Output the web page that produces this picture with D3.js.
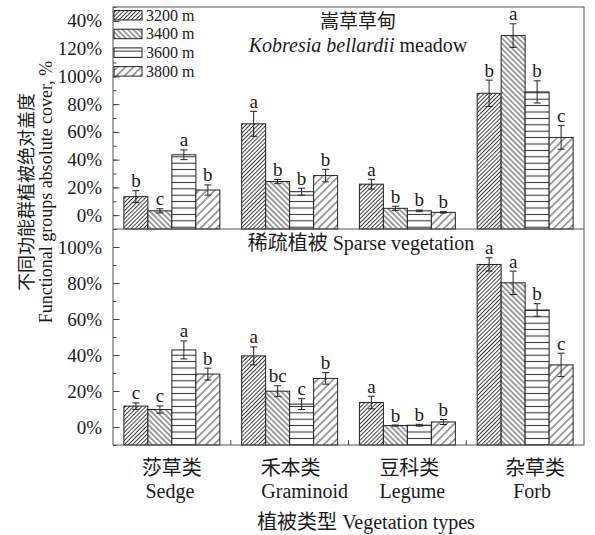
<!DOCTYPE html>
<html>
<head>
<meta charset="utf-8">
<script src="https://d3js.org/d3.v7.min.js"></script>
<style>
  body { margin: 0; background: #fff; }
  svg text { fill: #1a1a1a; }
</style>
</head>
<body>
<svg id="chart" width="595" height="535"></svg>
<script>
// categories / series
var categoriesCn = ["莎草类", "禾本类", "豆科类", "杂草类"];
var categoriesEn = ["Sedge", "Graminoid", "Legume", "Forb"];
var elevations = ["3200 m", "3400 m", "3600 m", "3800 m"];

// Kobresia bellardii meadow (top panel), rows = category, cols = elevation
var meadowMean = [[13.3, 3.1, 43.5, 18.1], [65.8, 24.2, 16.9, 28.5], [22.3, 4.9, 3.1, 2.0], [87.8, 129.4, 88.8, 56.0]];
var meadowErr  = [[4.3, 1.5, 3.5, 3.7], [9.0, 1.5, 2.5, 4.5], [3.5, 1.5, 0.6, 0.5], [9.5, 8.5, 8.0, 8.5]];
var meadowSig  = [["b", "c", "a", "b"], ["a", "b", "b", "b"], ["a", "b", "b", "b"], ["b", "a", "b", "c"]];

// Sparse vegetation (bottom panel)
var sparseMean = [[11.6, 9.7, 42.8, 29.4], [39.5, 19.9, 12.7, 27.0], [13.6, 0.8, 1.0, 2.8], [90.3, 80.1, 65.0, 34.5]];
var sparseErr  = [[1.8, 2.0, 5.0, 3.3], [5.0, 3.0, 3.0, 3.2], [3.5, 0.3, 0.5, 1.4], [3.7, 6.5, 3.5, 6.5]];
var sparseSig  = [["c", "c", "a", "b"], ["a", "bc", "c", "b"], ["a", "b", "b", "b"], ["a", "a", "b", "c"]];

// tick labels (top panel's last label reads "40%" in the original)
var meadowTicks = [0, 20, 40, 60, 80, 100, 120, 140];
var meadowTickLabels = ["0%", "20%", "40%", "60%", "80%", "100%", "120%", "40%"];
var sparseTicks = [0, 20, 40, 60, 80, 100];
var sparseTickLabels = ["0%", "20%", "40%", "60%", "80%", "100%"];

(function() {
  var LATIN = "'Liberation Serif', 'Times New Roman', serif";
  var CJK = "'Noto Sans CJK SC', sans-serif";

  var svg = d3.select("#chart");
  var left = 113, right = 584, plotTop = 7, mid = 229, bottom = 445;

  var x = d3.scaleBand().domain(categoriesEn).range([left, right])
    .paddingInner(0.185).paddingOuter(0.0925);
  var xs = d3.scaleBand().domain(elevations).range([0, x.bandwidth()]);

  var yTop = d3.scaleLinear().domain([-10, 150]).range([mid, plotTop]);
  var yBot = d3.scaleLinear().domain([-10, 110]).range([bottom, mid]);

  // text helper: parts = [[string, isCjk, italic], ...]
  function label(sel, px, py, size, parts, anchor, transform) {
    var t = sel.append("text").attr("font-size", size)
      .attr("text-anchor", anchor || "middle").attr("font-family", LATIN);
    if (transform) t.attr("transform", transform);
    else t.attr("x", px).attr("y", py);
    parts.forEach(function(p) {
      var s = t.append("tspan").text(p[0]).attr("font-family", p[1] ? CJK : LATIN);
      if (p[2]) s.attr("font-style", "italic");
    });
    return t;
  }

  // hatch patterns for the four elevations
  var defs = svg.append("defs");
  function hatch(id, size, angle, width) {
    var p = defs.append("pattern").attr("id", id)
      .attr("patternUnits", "userSpaceOnUse")
      .attr("width", size).attr("height", size)
      .attr("patternTransform", "rotate(" + angle + ")");
    p.append("rect").attr("width", size).attr("height", size).attr("fill", "#fff");
    p.append("line").attr("x1", size / 2).attr("y1", 0).attr("x2", size / 2).attr("y2", size)
      .attr("stroke", "#2a2a2a").attr("stroke-width", width);
  }
  hatch("p0", 2.9, 45, 0.9);
  hatch("p1", 3.8, -45, 0.9);
  hatch("p2", 6.4, 90, 1.0);
  hatch("p3", 5.6, 45, 0.9);
  var fills = elevations.map(function(d, i) { return "url(#p" + i + ")"; });

  function drawPanel(y, means, errs, sigs, ticks, labels) {
    var g = svg.append("g");

    // minor + major ticks, inward
    var minor = d3.range(y.domain()[0], y.domain()[1] + 1, 10);
    g.append("g").attr("transform", "translate(" + left + ",0)")
      .call(d3.axisLeft(y).tickValues(minor).tickSize(-3.5).tickFormat(""))
      .call(function(a) { a.select(".domain").remove(); a.selectAll("line").attr("stroke", "#444"); });
    g.append("g").attr("transform", "translate(" + left + ",0)")
      .call(d3.axisLeft(y).tickValues(ticks).tickSize(-6.5).tickPadding(11)
        .tickFormat(function(d, i) { return labels[i]; }))
      .call(function(a) {
        a.attr("font-family", LATIN).attr("font-size", 19);
        a.select(".domain").remove();
        a.selectAll("line").attr("stroke", "#444");
        a.selectAll("text").attr("fill", "#1a1a1a");
      });

    var base = y.range()[0];
    categoriesEn.forEach(function(cat, ci) {
      var cg = g.append("g").attr("transform", "translate(" + x(cat) + ",0)");
      elevations.forEach(function(el, ei) {
        var v = means[ci][ei], e = errs[ci][ei];
        var bx = xs(el), bw = xs.bandwidth(), cx = bx + bw / 2;
        cg.append("rect")
          .attr("x", bx).attr("y", y(v))
          .attr("width", bw).attr("height", base - y(v))
          .attr("fill", fills[ei]).attr("stroke", "#222").attr("stroke-width", 1);
        // error bar
        var eb = cg.append("g").attr("stroke", "#222").attr("stroke-width", 1);
        eb.append("line").attr("x1", cx).attr("x2", cx).attr("y1", y(v - e)).attr("y2", y(v + e));
        eb.append("line").attr("x1", cx - 3.5).attr("x2", cx + 3.5).attr("y1", y(v + e)).attr("y2", y(v + e));
        eb.append("line").attr("x1", cx - 3.5).attr("x2", cx + 3.5).attr("y1", y(v - e)).attr("y2", y(v - e));
        // significance letter
        label(cg, cx, y(v + e) - 3.5, 19, [[sigs[ci][ei]]]);
      });
    });
    return g;
  }

  drawPanel(yTop, meadowMean, meadowErr, meadowSig, meadowTicks, meadowTickLabels);
  drawPanel(yBot, sparseMean, sparseErr, sparseSig, sparseTicks, sparseTickLabels);

  // x ticks between groups (bottom panel)
  var xTicks = categoriesEn.slice(1).map(function(c) { return x(c) - (x.step() - x.bandwidth()) / 2; });
  svg.selectAll(".xt").data(xTicks).enter().append("line")
    .attr("x1", function(d) { return d; }).attr("x2", function(d) { return d; })
    .attr("y1", bottom).attr("y2", bottom - 5).attr("stroke", "#444");

  // frames
  svg.append("rect").attr("x", left).attr("y", plotTop).attr("width", right - left).attr("height", bottom - plotTop)
    .attr("fill", "none").attr("stroke", "#555").attr("stroke-width", 1);
  svg.append("line").attr("x1", left).attr("x2", right).attr("y1", mid).attr("y2", mid)
    .attr("stroke", "#555").attr("stroke-width", 1);

  // panel titles
  label(svg, 358, 28, 19, [["嵩草草甸", true]]);
  label(svg, 358, 52, 20, [["Kobresia bellardii", false, true], [" meadow"]]);
  label(svg, 361, 250, 20, [["稀疏植被", true], [" Sparse vegetation"]]);

  // legend
  var lg = svg.append("g").attr("transform", "translate(114,10.5)");
  elevations.forEach(function(el, i) {
    var row = lg.append("g").attr("transform", "translate(0," + (i * 18.7) + ")");
    row.append("rect").attr("width", 28).attr("height", 9.5)
      .attr("fill", fills[i]).attr("stroke", "#222").attr("stroke-width", 1);
    label(row, 32, 10, 16, [[el]], "start");
  });

  // category labels
  var cnNudge = [0, 1, 2, 10], enNudge = [-2, 15, 5, 7];
  categoriesEn.forEach(function(cat, i) {
    var cx = x(cat) + x.bandwidth() / 2;
    label(svg, cx + cnNudge[i], 475, 20, [[categoriesCn[i], true]]);
    label(svg, cx + enNudge[i], 498, 20, [[cat]]);
  });
  label(svg, 366, 529, 20, [["植被类型", true], [" Vegetation types"]]);

  // y axis title, two lines
  label(svg, 0, 0, 18, [["不同功能群植被绝对盖度", true]], "middle", "translate(33,192) rotate(-90)");
  label(svg, 0, 0, 18, [["Functional groups absolute cover, %"]], "middle", "translate(52,192) rotate(-90)");
})();
</script>
</body>
</html>
